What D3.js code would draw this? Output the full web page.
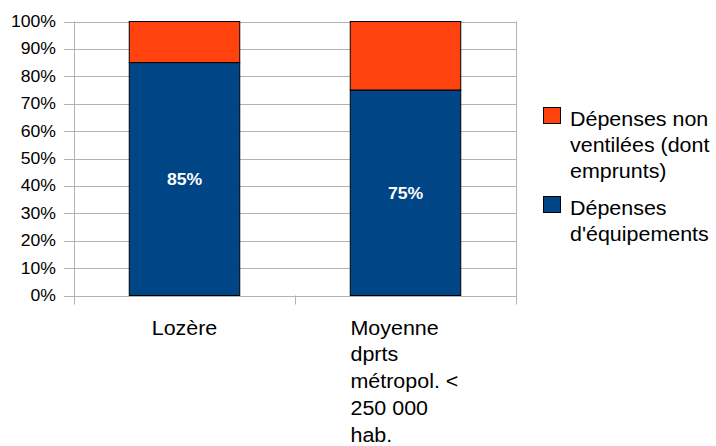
<!DOCTYPE html>
<html>
<head>
<meta charset="utf-8">
<title>depenses</title>
<script src="https://d3js.org/d3.v7.min.js"></script>
<style>
  body { margin: 0; background: #fff; }
  svg { font-family: "Liberation Sans", Arial, sans-serif; }
</style>
</head>
<body>
<svg id="chart" width="716" height="446"></svg>
<script>
// data
const categories = [["Lozère"], ["Moyenne", "dprts", "métropol. <", "250 000", "hab."]];
const equipements = [85, 75];
const nonVentilees = [15, 25];
const yTicks = [0, 10, 20, 30, 40, 50, 60, 70, 80, 90, 100];
const seriesNames = [["Dépenses non", "ventilées (dont", "emprunts)"], ["Dépenses", "d'équipements"]];
const colors = ["#ff420e", "#004586"];

const svg = d3.select("#chart");
const pLeft = 74, pRight = 516, pTop = 21.5, pBottom = 295.5;
const sx = 1.1; // text in the picture looks a bit wider than Liberation

const x = d3.scaleBand().domain([0, 1]).range([pLeft, pRight]).paddingInner(0).paddingOuter(0);
const y = d3.scaleLinear().domain([0, 100]).range([pBottom, pTop]);

// put a text at (tx,ty) stretched horizontally
function label(g, tx, ty, str, size, anchor) {
  return g.append("text")
    .attr("transform", `translate(${tx},${ty}) scale(${sx},1)`)
    .attr("text-anchor", anchor || "start")
    .attr("font-size", size).attr("fill", "#000").text(str);
}

// grid
svg.append("g").selectAll("line").data(yTicks).join("line")
  .attr("x1", pLeft - 10).attr("x2", pRight)
  .attr("y1", d => Math.round(y(d)) + 0.5).attr("y2", d => Math.round(y(d)) + 0.5)
  .attr("stroke", "#b3b3b3").attr("stroke-width", 1);

// y labels
const yl = svg.append("g");
yTicks.forEach(d => label(yl, pLeft - 18, y(d) + 5.5, d + "%", 16, "end"));

// vertical axis lines and category ticks
svg.append("line").attr("x1", pLeft + 0.5).attr("x2", pLeft + 0.5)
  .attr("y1", pTop).attr("y2", pBottom + 9).attr("stroke", "#b3b3b3");
svg.append("line").attr("x1", pRight + 0.5).attr("x2", pRight + 0.5)
  .attr("y1", pTop).attr("y2", pBottom + 9).attr("stroke", "#b3b3b3");
svg.append("line").attr("x1", Math.round(x(1)) + 0.5).attr("x2", Math.round(x(1)) + 0.5)
  .attr("y1", pBottom).attr("y2", pBottom + 9).attr("stroke", "#b3b3b3");

// bars
const barW = x.bandwidth() * 0.5;
const bars = svg.append("g");
equipements.forEach((v, i) => {
  const bx = x(i) + (x.bandwidth() - barW) / 2;
  bars.append("rect").attr("x", bx).attr("width", barW)
    .attr("y", y(v)).attr("height", y(0) - y(v))
    .attr("fill", colors[1]).attr("stroke", "#000").attr("stroke-width", 1);
  bars.append("rect").attr("x", bx).attr("width", barW)
    .attr("y", y(v + nonVentilees[i])).attr("height", y(v) - y(v + nonVentilees[i]))
    .attr("fill", colors[0]).attr("stroke", "#000").attr("stroke-width", 1);
  label(bars, x(i) + x.bandwidth() / 2, (y(0) + y(v)) / 2 + 6, v + "%", 16, "middle")
    .attr("font-weight", "bold").attr("fill", "#fff");
});

// category labels
const cl = svg.append("g");
categories.forEach((lines, i) => {
  if (lines.length === 1) {
    label(cl, x(i) + x.bandwidth() / 2, 334.5, lines[0], 19.5, "middle");
  } else {
    lines.forEach((l, j) => label(cl, x(i) + x.bandwidth() / 2 - 55, 334.5 + j * 26.8, l, 19.5));
  }
});

// legend
const legY = [107, 196];
const lg = svg.append("g");
seriesNames.forEach((lines, i) => {
  lg.append("rect").attr("x", 543.5).attr("y", legY[i] + 0.5).attr("width", 17).attr("height", 16)
    .attr("fill", colors[i]).attr("stroke", "#000").attr("stroke-width", 1);
  lines.forEach((l, j) => label(lg, 570, legY[i] + 19 + j * 26, l, 19.5));
});
</script>
</body>
</html>
